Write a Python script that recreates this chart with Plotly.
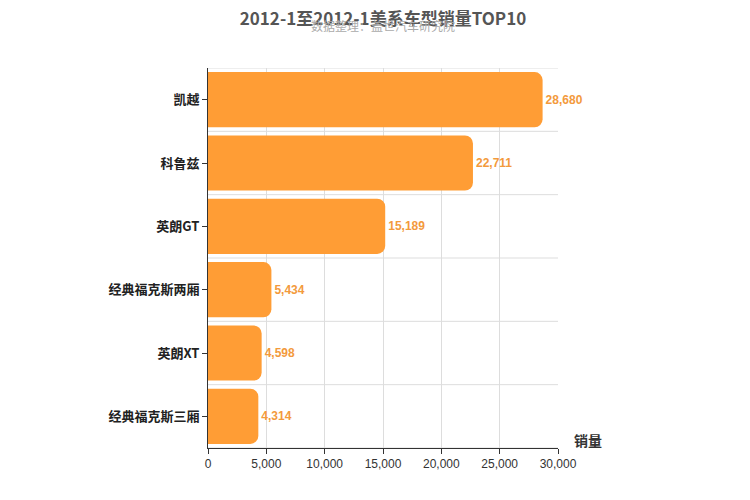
import plotly.graph_objects as go

categories = ["凯越", "科鲁兹", "英朗GT", "经典福克斯两厢", "英朗XT", "经典福克斯三厢"]
values = [28680, 22711, 15189, 5434, 4598, 4314]
x_ticks = [0, 5000, 10000, 15000, 20000, 25000, 30000]

cats = categories[::-1]
vals = values[::-1]

fig = go.Figure(go.Bar(
    x=vals, y=cats, orientation="h",
    marker=dict(color="#FF9D35", cornerradius=8, line=dict(width=0)),
    text=[f"<b>{v:,}</b>" for v in vals], textposition="outside",
    textfont=dict(color="#F39A3C", size=12, family="Arial"),
    cliponaxis=False,
))

shapes = []
for i in range(len(cats) + 1):
    shapes.append(dict(type="line", xref="paper", yref="y", x0=0, x1=1,
                       y0=i - 0.5, y1=i - 0.5, line=dict(color="#DDDDDD", width=1), layer="below"))

fig.update_layout(
    width=750, height=500,
    margin=dict(l=200, r=200, t=60, b=60, autoexpand=False),
    plot_bgcolor="white", paper_bgcolor="white",
    bargap=0.13,
    showlegend=False,
    shapes=shapes,
    font=dict(family="Noto Sans CJK SC, Arial", color="#333"),
    title=dict(text="<b>2012-1至2012-1美系车型销量TOP10</b>", x=0.5, xanchor="center",
               y=0.99, yanchor="top", font=dict(size=17, color="#555")),
    annotations=[
        dict(text="数据整理：盖世汽车研究院", xref="paper", yref="paper", x=0.5, y=1.085,
             xanchor="center", yanchor="bottom", showarrow=False, font=dict(size=12, color="#AAAAAA")),
        dict(text="<b>销量</b>", xref="paper", yref="paper", x=1.04, y=-0.01,
             xanchor="left", yanchor="bottom", showarrow=False, font=dict(size=14, color="#333")),
    ],
    xaxis=dict(range=[0, 30000], tickvals=x_ticks, tickformat=",", showgrid=True,
               gridcolor="#DDDDDD", zeroline=False, showline=True, linecolor="#333",
               ticks="outside", ticklen=5, tickcolor="#333", automargin=False,
               tickfont=dict(size=12, family="Arial")),
    yaxis=dict(range=[-0.5, 5.5], showgrid=False, showline=True, linecolor="#333",
               ticks="outside", ticklen=5, tickcolor="#333", automargin=False,
               tickvals=cats, ticktext=[f"<b>{c}</b>" for c in cats],
               tickfont=dict(size=13, color="#222"), ticksuffix="  "),
)
fig.write_html("out.html")
